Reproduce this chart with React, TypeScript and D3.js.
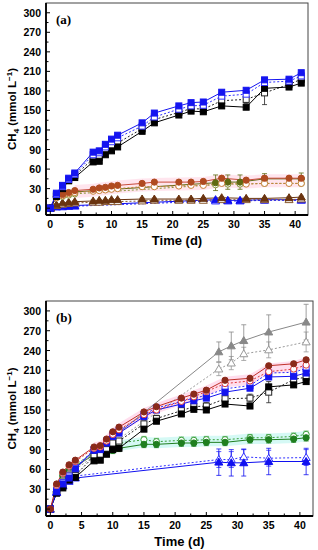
import React from "react";
import { scaleLinear, line, area, range, symbol, symbolTriangle } from "d3";

// sampling days
const daysFull = [0, 1, 2, 3, 4, 7, 8, 9, 10, 11, 15, 17, 21, 23, 25, 28, 32, 35, 39, 41];
const daysShort = [0, 1, 2, 3, 4, 27, 29, 31, 35, 41];

// panel (a)
const blueSqA = [0, 23, 35, 46, 54, 86, 88, 98, 106, 112, 131, 146, 157, 162, 163, 178, 181, 197, 198, 208];
const blueOpenSqA = [0, 21, 33, 44, 52, 82, 85, 94, 102, 108, 126, 140, 152, 157, 158, 172, 175, 193, 195, 203];
const blackOpenSqA = [0, 20, 31, 43, 50, 76, 78, 88, 95, 100, 122, 136, 147, 153, 152, 165, 167, 177, 190, 198];
const blackSqA = [0, 18, 30, 42, 47, 71, 72, 82, 88, 94, 118, 131, 143, 149, 148, 157, 155, 184, 186, 192];
const blackOpenErrA = [0, 2, 2, 3, 3, 3, 3, 3, 4, 4, 4, 4, 5, 5, 5, 6, 6, 18, 8, 8];
const redCircA = [0, 18, 21, 24, 27, 29, 31, 32, 34, 35, 38, 40, 40, 40, 41, 46, 43, 46, 46, 46];
const orangeOpenA = [0, 16, 19, 22, 24, 26, 27, 28, 29, 30, 33, 33, 34, 35, 35, 38, 37, 38, 38, 38];
const oliveCircA = [0, 18, 20, 23, 25, 39, 40, 40, 45, 45];
const oliveErrA = [0, 3, 3, 3, 3, 12, 11, 11, 8, 9];
const greenOpenA = [0, 16, 18, 20, 22, 36, 37, 37, 38, 38];
const brownTriA = [0, 5, 8, 9, 10, 11, 12, 12, 13, 13, 14, 14, 14, 14, 15, 16, 15, 15, 16, 17];
const brownOpenTriA = [0, 4, 6, 7, 8, 9, 9, 10, 10, 10, 11, 12, 12, 12, 12, 13, 13, 13, 13, 14];
const blueTriA = [0, 2, 3, 3, 4, 13, 12, 12, 13, 13];
const blueOpenTriA = [0, 2, 2, 3, 3, 11, 11, 11, 12, 12];

// panel (b)
const redCircB = [0, 38, 56, 67, 74, 94, 96, 106, 117, 124, 147, 155, 168, 174, 180, 195, 198, 217, 220, 226];
const redOpenB = [0, 36, 54, 65, 72, 92, 94, 103, 113, 120, 143, 150, 163, 170, 178, 190, 194, 208, 212, 218];
const blueSqB = [0, 26, 38, 47, 61, 89, 90, 100, 110, 115, 140, 150, 159, 164, 168, 177, 183, 200, 201, 206];
const blueOpenSqB = [0, 28, 40, 50, 63, 90, 92, 103, 112, 118, 143, 153, 163, 168, 172, 182, 187, 206, 207, 213];
const blackSqB = [0, 24, 32, 44, 48, 73, 74, 83, 90, 92, 121, 133, 144, 151, 150, 159, 156, 185, 188, 193];
const blackOpenSqB = [0, 26, 35, 46, 51, 80, 82, 90, 100, 103, 129, 137, 149, 155, 156, 167, 168, 177, 196, 200];
const blackOpenErrB = [0, 2, 2, 3, 3, 3, 3, 3, 4, 4, 4, 5, 5, 5, 5, 6, 6, 16, 9, 8];
const greenCircB = [0, 30, 50, 58, 65, 82, 84, 86, 89, 92, 98, 98, 100, 100, 101, 101, 105, 105, 106, 108];
const greenOpenB = [0, 32, 52, 60, 67, 86, 88, 92, 96, 100, 105, 102, 104, 104, 105, 105, 108, 108, 110, 113];
const grayTriB = [0, 30, 45, 55, 62, 238, 247, 255, 268, 283];
const grayErrB = [0, 3, 3, 4, 4, 15, 21, 24, 26, 27];
const grayOpenTriB = [0, 28, 42, 52, 60, 212, 221, 235, 241, 253];
const grayOpenErrB = [0, 3, 3, 4, 4, 10, 10, 10, 12, 15];
const blueTriB = [0, 25, 35, 42, 47, 71, 70, 70, 72, 72];
const blueTriErrB = [0, 3, 3, 3, 3, 20, 20, 20, 20, 20];
const blueOpenTriB = [0, 26, 36, 44, 50, 75, 75, 79, 77, 78];
const blueOpenTriErrB = [0, 3, 3, 3, 3, 12, 12, 12, 12, 12];

const yTicks = range(0, 301, 30);
const yMinor = range(15, 300, 30);
const xTicks = range(0, 41, 5);
const xMinor = range(2.5, 42, 5);

type Series = {
  days: number[];
  values: number[];
  err?: number[] | number;
  color: string;
  lineColor?: string;
  open?: boolean;
  shape: "sq" | "circ" | "tri";
};

type Band = { days: number[]; values: number[]; half: number; fill: string };

const FONT = "'Liberation Sans', Arial, sans-serif";

const Marker = ({ s, x, y }: { s: Series; x: number; y: number }) => {
  const fill = s.open ? "#fff" : s.color;
  if (s.shape === "sq")
    return <rect x={x - 3} y={y - 3} width={6} height={6} fill={fill} stroke={s.color} strokeWidth={1} />;
  if (s.shape === "circ")
    return <circle cx={x} cy={y} r={3.1} fill={fill} stroke={s.color} strokeWidth={1} />;
  const d = symbol(symbolTriangle, 28)() || "";
  return <path d={d} transform={`translate(${x},${y + 0.6})`} fill={fill} stroke={s.color} strokeWidth={1} />;
};

const Panel = ({
  left, right, top, bottom, tag, series, bands,
}: {
  left: number; right: number; top: number; bottom: number; tag: string; series: Series[]; bands: Band[];
}) => {
  const x = scaleLinear().domain([-0.7, 42.1]).range([left, right]);
  const y = scaleLinear().domain([-10.5, 315]).range([bottom, top]);
  const ln = line<[number, number]>().x((d) => x(d[0])).y((d) => y(d[1]));
  const labelCy = (top + bottom) / 2;
  return (
    <g>
      <defs>
        <clipPath id={`clip-${tag}`}>
          <rect x={left} y={top} width={right - left} height={bottom - top} />
        </clipPath>
      </defs>
      <g clipPath={`url(#clip-${tag})`}>
        {bands.map((b, i) => {
          const gen = area<number>()
            .x((_, j) => x(b.days[j]))
            .y0((d) => y(d - b.half))
            .y1((d) => y(d + b.half));
          return <path key={i} d={gen(b.values) || ""} fill={b.fill} stroke="none" />;
        })}
        {series.map((s, i) => (
          <path
            key={"l" + i}
            d={ln(s.days.map((d, j) => [d, s.values[j]] as [number, number])) || ""}
            fill="none"
            stroke={s.lineColor || s.color}
            strokeWidth={1}
            strokeDasharray={s.open ? "2,2" : undefined}
          />
        ))}
        {series.map((s, i) =>
          s.days.map((d, j) => {
            const e = typeof s.err === "number" ? s.err : s.err ? s.err[j] : 0;
            if (!e) return null;
            const cx = x(d);
            return (
              <g key={`e${i}-${j}`} stroke={s.lineColor || s.color} strokeWidth={0.8}>
                <line x1={cx} x2={cx} y1={y(s.values[j] - e)} y2={y(s.values[j] + e)} />
                <line x1={cx - 2.5} x2={cx + 2.5} y1={y(s.values[j] - e)} y2={y(s.values[j] - e)} />
                <line x1={cx - 2.5} x2={cx + 2.5} y1={y(s.values[j] + e)} y2={y(s.values[j] + e)} />
              </g>
            );
          })
        )}
        {series.map((s, i) =>
          s.days.map((d, j) => <Marker key={`m${i}-${j}`} s={s} x={x(d)} y={y(s.values[j])} />)
        )}
      </g>
      {/* frame */}
      <rect x={left} y={top} width={right - left} height={bottom - top} fill="none" stroke="#444" strokeWidth={1} />
      <line x1={left} x2={left} y1={top} y2={bottom} stroke="#000" strokeWidth={1.8} />
      <line x1={left} x2={right} y1={bottom} y2={bottom} stroke="#000" strokeWidth={1.8} />
      {yTicks.map((t) => (
        <g key={"yt" + t}>
          <line x1={left} x2={left + 4} y1={y(t)} y2={y(t)} stroke="#000" strokeWidth={1} />
          <text x={left - 5} y={y(t) + 4} textAnchor="end" fontFamily={FONT} fontWeight="bold" fontSize={10.5}>
            {t}
          </text>
        </g>
      ))}
      {yMinor.map((t) => (
        <line key={"ym" + t} x1={left} x2={left + 2.5} y1={y(t)} y2={y(t)} stroke="#000" strokeWidth={1} />
      ))}
      {xTicks.map((t) => (
        <g key={"xt" + t}>
          <line x1={x(t)} x2={x(t)} y1={bottom} y2={bottom - 4} stroke="#000" strokeWidth={1} />
          <text x={x(t)} y={bottom + 13} textAnchor="middle" fontFamily={FONT} fontWeight="bold" fontSize={10.5}>
            {t}
          </text>
        </g>
      ))}
      {xMinor.map((t) => (
        <line key={"xm" + t} x1={x(t)} x2={x(t)} y1={bottom} y2={bottom - 2.5} stroke="#000" strokeWidth={1} />
      ))}
      <text x={(left + right) / 2} y={bottom + 30} textAnchor="middle" fontFamily={FONT} fontWeight="bold" fontSize={13}>
        Time (d)
      </text>
      <text
        transform={`translate(16,${labelCy}) rotate(-90)`}
        textAnchor="middle"
        fontFamily={FONT}
        fontWeight="bold"
        fontSize={11.5}
      >
        CH<tspan dy={3} fontSize={8}>4</tspan>
        <tspan dy={-3}> (mmol L</tspan>
        <tspan dy={-4} fontSize={8}>−1</tspan>
        <tspan dy={4}>)</tspan>
      </text>
      <text x={left + 10} y={top + 21} fontFamily="'Liberation Serif', 'Times New Roman', serif" fontWeight="bold" fontSize={13}>
        ({tag})
      </text>
    </g>
  );
};

const seriesA: Series[] = [
  { days: daysShort, values: blueOpenTriA, color: "#2020ff", open: true, shape: "tri", err: 1 },
  { days: daysShort, values: blueTriA, color: "#1010f0", shape: "tri", err: 1 },
  { days: daysFull, values: brownOpenTriA, color: "#8a5a30", open: true, shape: "tri", err: 1 },
  { days: daysFull, values: brownTriA, color: "#6a3410", shape: "tri", err: 1.5 },
  { days: daysShort, values: greenOpenA, color: "#8a9a40", open: true, shape: "circ", err: 2 },
  { days: daysShort, values: oliveCircA, color: "#5e6a12", shape: "circ", err: oliveErrA },
  { days: daysFull, values: orangeOpenA, color: "#c8803a", open: true, shape: "circ", err: 2 },
  { days: daysFull, values: redCircA, color: "#b04a20", lineColor: "#c84a3a", shape: "circ", err: 2 },
  { days: daysFull, values: blackOpenSqA, color: "#222", open: true, shape: "sq", err: blackOpenErrA },
  { days: daysFull, values: blackSqA, color: "#000", shape: "sq", err: 3 },
  { days: daysFull, values: blueOpenSqA, color: "#3030ff", open: true, shape: "sq", err: 3 },
  { days: daysFull, values: blueSqA, color: "#1515f0", shape: "sq", err: 3 },
];

const bandsA: Band[] = [
  { days: daysFull.slice(4), values: redCircA.slice(4).map((v, i) => (v + orangeOpenA[i + 4]) / 2), half: 10, fill: "rgba(255,170,200,0.3)" },
];

const seriesB: Series[] = [
  { days: daysShort, values: blueOpenTriB, color: "#3030ff", open: true, shape: "tri", err: blueOpenTriErrB },
  { days: daysShort, values: blueTriB, color: "#1010f0", shape: "tri", err: blueTriErrB },
  { days: daysFull, values: greenOpenB, color: "#3aa03a", open: true, shape: "circ", err: 5 },
  { days: daysFull, values: greenCircB, color: "#1f7f1f", shape: "circ", err: 5 },
  { days: daysShort, values: grayOpenTriB, color: "#999", open: true, shape: "tri", err: grayOpenErrB },
  { days: daysShort, values: grayTriB, color: "#888", shape: "tri", err: grayErrB },
  { days: daysFull, values: blackOpenSqB, color: "#222", open: true, shape: "sq", err: blackOpenErrB },
  { days: daysFull, values: blackSqB, color: "#000", shape: "sq", err: 3 },
  { days: daysFull, values: blueOpenSqB, color: "#3030ff", open: true, shape: "sq", err: 3 },
  { days: daysFull, values: blueSqB, color: "#1515f0", shape: "sq", err: 3 },
  { days: daysFull, values: redOpenB, color: "#e03a3a", open: true, shape: "circ", err: 3 },
  { days: daysFull, values: redCircB, color: "#8a2a1a", lineColor: "#c03028", shape: "circ", err: 3 },
];

const bandsB: Band[] = [
  { days: daysFull.slice(5), values: greenCircB.slice(5).map((v, i) => (v + greenOpenB[i + 5]) / 2), half: 8, fill: "rgba(150,240,230,0.4)" },
  { days: daysFull.slice(5), values: redCircB.slice(5).map((v, i) => (v + redOpenB[i + 5]) / 2), half: 8, fill: "rgba(255,170,210,0.4)" },
];

export default function App() {
  return (
    <svg width={318} height={550} style={{ position: "absolute", left: 0, top: 0, background: "#fff" }}>
      <Panel left={46} right={308} top={3} bottom={215} tag="a" series={seriesA} bands={bandsA} />
      <Panel left={46} right={313} top={301} bottom={516} tag="b" series={seriesB} bands={bandsB} />
    </svg>
  );
}
